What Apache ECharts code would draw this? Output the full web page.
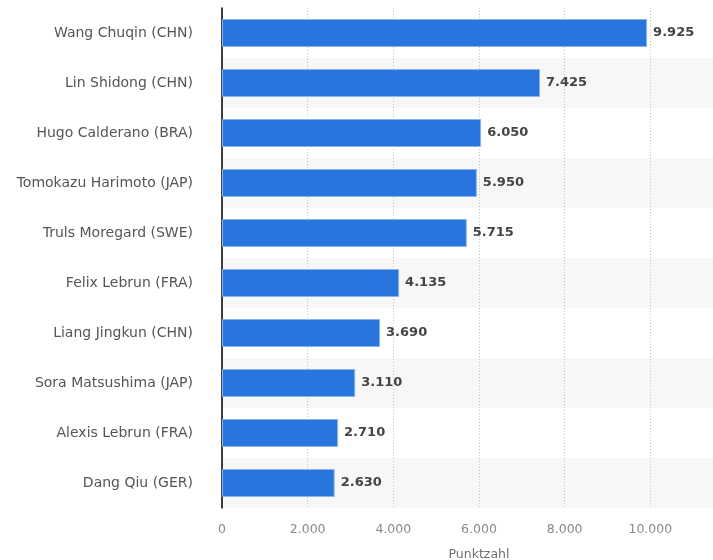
<!DOCTYPE html>
<html>
<head>
<meta charset="utf-8">
<script src="https://cdn.jsdelivr.net/npm/echarts@6/dist/echarts.min.js"></script>
<style>
html,body{margin:0;padding:0;background:#fff;}
#chart{width:713px;height:560px;}
</style>
</head>
<body>
<div id="chart"></div>
<script>
const players = [
  "Wang Chuqin (CHN)",
  "Lin Shidong (CHN)",
  "Hugo Calderano (BRA)",
  "Tomokazu Harimoto (JAP)",
  "Truls Moregard (SWE)",
  "Felix Lebrun (FRA)",
  "Liang Jingkun (CHN)",
  "Sora Matsushima (JAP)",
  "Alexis Lebrun (FRA)",
  "Dang Qiu (GER)"
];
const points = [9925, 7425, 6050, 5950, 5715, 4135, 3690, 3110, 2710, 2630];
const axisName = "Punktzahl";
const xMin = 0, xMax = 12000, xStep = 2000;

function fmt(v) {
  return String(Math.round(v)).replace(/\B(?=(\d{3})+(?!\d))/g, ".");
}

const chart = echarts.init(document.getElementById('chart'), null, {renderer: 'canvas'});
chart.setOption({
  animation: false,
  backgroundColor: '#ffffff',
  grid: {left: 222, top: 8, width: 514, height: 500, containLabel: false, outerBoundsMode: 'none'},
  xAxis: {
    type: 'value',
    min: xMin, max: xMax, interval: xStep,
    name: axisName,
    nameLocation: 'middle',
    nameGap: 40,
    nameTextStyle: {color: '#707070', fontSize: 12.5, fontFamily: 'DejaVu Sans'},
    axisLine: {show: false},
    axisTick: {show: false},
    axisLabel: {color: '#8a8a8a', fontSize: 12.5, fontFamily: 'DejaVu Sans', margin: 15, formatter: fmt},
    splitLine: {show: true, lineStyle: {color: '#c4c4c4', type: [1, 2], width: 1}}
  },
  yAxis: {
    type: 'category',
    data: players,
    inverse: true,
    axisLine: {show: true, lineStyle: {color: '#000000', width: 1.5}},
    axisTick: {show: false},
    axisLabel: {color: '#555555', fontSize: 14, fontFamily: 'DejaVu Sans', margin: 29},
    splitArea: {show: true, areaStyle: {color: ['#ffffff', '#f7f7f7']}},
    splitLine: {show: false}
  },
  series: [{
    type: 'bar',
    data: points,
    barWidth: 28,
    itemStyle: {color: '#2876dd', borderColor: '#8ab4ec', borderWidth: 1},
    label: {
      show: true,
      position: 'right',
      distance: 6,
      color: '#444444',
      fontWeight: 'bold',
      fontSize: 13,
      fontFamily: 'DejaVu Sans',
      formatter: p => fmt(p.value)
    }
  }]
});
</script>
</body>
</html>
